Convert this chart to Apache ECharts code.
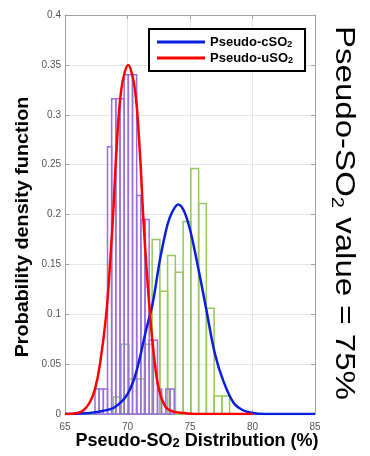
<!DOCTYPE html>
<html>
<head>
<meta charset="utf-8">
<script src="https://cdn.jsdelivr.net/npm/echarts@6/dist/echarts.min.js"></script>
<style>
  html, body { margin: 0; padding: 0; background: #fff; }
  #main { width: 370px; height: 456px; }
</style>
</head>
<body>
<div id="main"></div>
<script>
// histogram bins
var uBinStart = 67.4;
var uBinWidth = 1 / 3;
var uHeights = [0.025, 0.025, 0.025, 0.268, 0.316, 0.316, 0.316, 0.34, 0.34, 0.34,
                0.219, 0.195, 0.195, 0.074, 0.074, 0.025, 0, 0.025, 0.025];

var cBinStart = 68.87;
var cBinWidth = 0.62;
var cHeights = [0.017, 0.07, 0.035, 0.035, 0.07, 0.175, 0.123, 0.159, 0.142, 0.193,
                0.246, 0.211, 0.106, 0.018, 0.018];

// fitted curves, points
var uCurveX = [65, 66, 66.5, 67, 67.4, 67.8, 68.3, 68.6, 68.85, 69.1, 69.5, 70.05,
               70.6, 71.0, 71.25, 71.5, 71.8, 72.1, 72.5, 73.0, 73.5, 74.5, 75.5, 80];
var uCurveY = [0, 0.001, 0.004, 0.012, 0.025, 0.05, 0.1, 0.15, 0.2, 0.26, 0.325, 0.35,
               0.325, 0.26, 0.2, 0.15, 0.1, 0.06, 0.025, 0.008, 0.003, 0.001, 0, 0];

var cCurveX = [65, 66, 67, 68, 69, 70, 70.7, 71.5, 72, 72.6, 73.2, 73.6, 74.05,
               74.5, 75, 75.6, 76.3, 77, 77.7, 78.5, 79.2, 80, 81, 85];
var cCurveY = [0, 0.0003, 0.001, 0.003, 0.007, 0.02, 0.042, 0.085, 0.11, 0.155, 0.19, 0.203, 0.21,
               0.204, 0.185, 0.15, 0.105, 0.06, 0.032, 0.011, 0.004, 0.001, 0, 0];

function binData(start, width, heights) {
    return heights.map(function (h, i) {
        return [start + i * width, start + (i + 1) * width, h];
    });
}

function zip(xs, ys) {
    return xs.map(function (x, i) { return [x, ys[i]]; });
}

function histRender(color) {
    return function (params, api) {
        var p0 = api.coord([api.value(0), api.value(2)]);
        var p1 = api.coord([api.value(1), 0]);
        return {
            type: 'rect',
            shape: { x: p0[0], y: p0[1], width: p1[0] - p0[0], height: p1[1] - p0[1] },
            style: { fill: null, stroke: color, lineWidth: 1.5 }
        };
    };
}

var chartDom = document.getElementById('main');
var myChart = echarts.init(chartDom);
var option;

var FONT = 'Liberation Sans';
var gridLine = { show: true, lineStyle: { color: '#e6e6e6', width: 1 } };
var boxLine = { show: true, onZero: false, lineStyle: { color: '#a0a0a0', width: 1 } };
var inTick = { show: true, inside: true, length: 4, lineStyle: { color: '#a0a0a0' } };

option = {
    animation: false,
    backgroundColor: '#fff',
    grid: { left: 65, right: 55, top: 15, bottom: 42 },
    legend: {
        orient: 'vertical',
        left: 149,
        top: 29,
        padding: [6, 12, 6, 8],
        itemGap: 2,
        itemWidth: 48,
        itemHeight: 3,
        icon: 'rect',
        backgroundColor: '#fff',
        borderColor: '#000',
        borderWidth: 2,
        borderRadius: 0,
        data: ['Pseudo-cSO2', 'Pseudo-uSO2'],
        formatter: function (name) {
            return name.slice(0, -1) + '{s|2}';
        },
        textStyle: {
            fontSize: 13,
            fontWeight: 'bold',
            fontFamily: FONT,
            color: '#000',
            lineHeight: 14,
            rich: {
                s: { fontSize: 9, fontWeight: 'bold', fontFamily: FONT, color: '#000', padding: [5, 0, 0, 0] }
            }
        }
    },
    xAxis: [
        {
            type: 'value',
            min: 65,
            max: 85,
            interval: 5,
            axisLine: boxLine,
            axisTick: inTick,
            axisLabel: { color: '#555', fontSize: 10, fontFamily: FONT, margin: 8 },
            splitLine: gridLine
        },
        {
            type: 'value',
            position: 'top',
            min: 65,
            max: 85,
            interval: 5,
            axisLine: boxLine,
            axisTick: inTick,
            axisLabel: { show: false },
            splitLine: { show: false }
        }
    ],
    yAxis: [
        {
            type: 'value',
            min: 0,
            max: 0.4,
            interval: 0.05,
            axisLine: boxLine,
            axisTick: inTick,
            axisLabel: { color: '#555', fontSize: 10, fontFamily: FONT, margin: 4 },
            splitLine: gridLine
        },
        {
            type: 'value',
            position: 'right',
            min: 0,
            max: 0.4,
            interval: 0.05,
            axisLine: boxLine,
            axisTick: inTick,
            axisLabel: { show: false },
            splitLine: { show: false }
        }
    ],
    series: [
        {
            name: 'cHist',
            type: 'custom',
            renderItem: histRender('#95c95a'),
            encode: { x: [0, 1], y: 2 },
            data: binData(cBinStart, cBinWidth, cHeights),
            z: 2
        },
        {
            name: 'uHist',
            type: 'custom',
            renderItem: histRender('#9a6fdc'),
            encode: { x: [0, 1], y: 2 },
            data: binData(uBinStart, uBinWidth, uHeights),
            z: 3
        },
        {
            name: 'Pseudo-cSO2',
            type: 'line',
            data: zip(cCurveX, cCurveY),
            smooth: 0.35,
            symbol: 'none',
            color: '#0a1ee0',
            lineStyle: { color: '#0a1ee0', width: 2.5 },
            z: 5
        },
        {
            name: 'Pseudo-uSO2',
            type: 'line',
            data: zip(uCurveX, uCurveY),
            smooth: 0.35,
            symbol: 'none',
            color: '#ff0000',
            lineStyle: { color: '#ff0000', width: 2.5 },
            z: 6
        }
    ],
    graphic: [
        {
            // y axis title
            type: 'text',
            x: 23,
            y: 227,
            rotation: Math.PI / 2,
            scaleX: 1.1,
            style: {
                text: 'Probability density function',
                font: 'bold 18px "Liberation Sans"',
                fill: '#000',
                align: 'center',
                verticalAlign: 'middle'
            }
        },
        {
            // x axis title
            type: 'text',
            x: 197,
            y: 441,
            style: {
                text: 'Pseudo-SO{s|2} Distribution (%)',
                font: 'bold 18px "Liberation Sans"',
                fill: '#000',
                align: 'center',
                verticalAlign: 'middle',
                rich: {
                    s: { font: 'bold 13px "Liberation Sans"', fill: '#000', padding: [4, 0, 0, 0] }
                }
            }
        },
        {
            type: 'text',
            x: 344,
            y: 213,
            rotation: -Math.PI / 2,
            scaleX: 1.18,
            style: {
                text: 'Pseudo-SO{s|2} value = 75%',
                font: '28px "Liberation Sans"',
                fill: '#000',
                align: 'center',
                verticalAlign: 'middle',
                rich: {
                    s: { font: '17px "Liberation Sans"', fill: '#000', padding: [15, 0, 0, 0] }
                }
            }
        }
    ]
};

option && myChart.setOption(option);
</script>
</body>
</html>
